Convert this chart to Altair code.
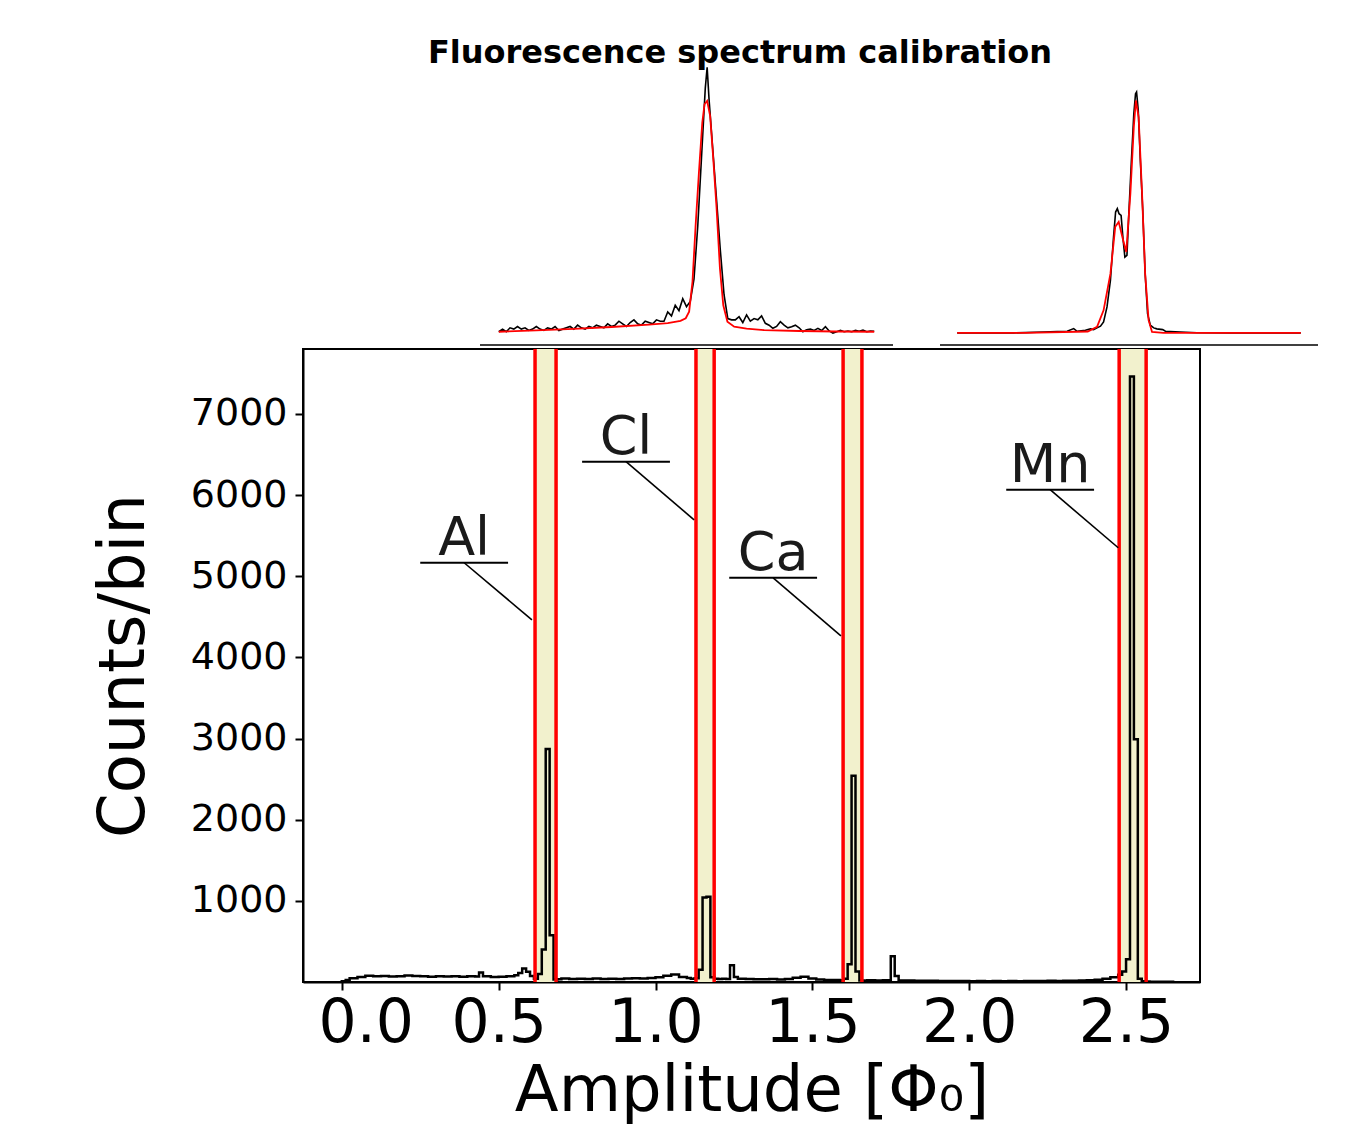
import altair as alt
import pandas as pd

# ---------------- data ----------------
TITLE = "Fluorescence spectrum calibration"
X_TITLE = "Amplitude [Φ₀]"
Y_TITLE = "Counts/bin"

# main histogram: left bin edges (Φ0) and counts per bin
hist_edges = [
    0.000, 0.0125, 0.025, 0.050, 0.075, 0.100, 0.125, 0.150, 0.175, 0.200,
    0.225, 0.250, 0.275, 0.300, 0.325, 0.350, 0.375, 0.400, 0.425, 0.4375,
    0.450, 0.475, 0.500, 0.525, 0.550, 0.5625, 0.575, 0.5875, 0.600, 0.6125,
    0.625, 0.6375, 0.650, 0.6625, 0.675, 0.6875,
    0.700, 0.725, 0.750, 0.775, 0.800, 0.825, 0.850, 0.875, 0.900, 0.925,
    0.950, 0.975, 1.000, 1.025, 1.050, 1.075, 1.100, 1.1125, 1.125,
    1.1375, 1.150, 1.1625, 1.175, 1.1875,
    1.200, 1.2125, 1.225, 1.2375, 1.250, 1.2625, 1.2875, 1.3125, 1.3375, 1.3625,
    1.3875, 1.4125, 1.4375, 1.4625, 1.4875, 1.5125, 1.5375, 1.5625, 1.5875,
    1.600, 1.6125, 1.625, 1.6375, 1.650, 1.6625,
    1.675, 1.700, 1.725, 1.750, 1.7625, 1.775, 1.800, 1.825, 1.850, 1.875,
    1.900, 1.925, 1.950, 1.975, 2.000, 2.025, 2.050, 2.075, 2.100, 2.125,
    2.150, 2.175, 2.200, 2.225, 2.250, 2.275, 2.300, 2.325, 2.350, 2.375,
    2.400, 2.425, 2.450,
    2.475, 2.4875, 2.500, 2.5125, 2.525, 2.5375, 2.550, 2.5625,
    2.575, 2.600, 2.625,
]
hist_counts = [
    8, 25, 45, 62, 78, 70, 74, 68, 72, 80,
    74, 70, 66, 72, 68, 70, 66, 72, 68, 118,
    70, 62, 66, 70, 82, 110, 165, 125, 75, 40,
    100, 400, 2870, 575, 30, 35,
    42, 36, 40, 38, 42, 36, 40, 38, 42, 45,
    44, 50, 58, 78, 92, 62, 48, 40, 45,
    150, 1040, 1050, 60, 40,
    38, 40, 36, 205, 62, 40, 38, 35, 33, 36,
    31, 36, 52, 66, 42, 30, 26, 25, 22,
    40, 220, 2540, 130, 18, 20,
    22, 20, 22, 318, 75, 20, 18, 16, 14, 15,
    12, 13, 12, 11, 10, 12, 10, 11, 10, 12,
    10, 11, 12, 12, 14, 13, 15, 16, 18, 22,
    28, 40, 60,
    90, 130, 280, 7460, 2990, 40, 10, 6,
    4, 3, 2,
]
hist_end = 2.650

# calibration lines (selection windows) and their labels
elements = ["Al", "Cl", "Ca", "Mn"]
band_lo = [0.616, 1.129, 1.598, 2.478]
band_hi = [0.683, 1.187, 1.658, 2.564]
label_x = [0.390, 0.906, 1.375, 2.258]      # underline centre (Φ0)
label_y = [5166, 6411, 4980, 6066]          # underline height (counts)
arrow_x = [0.606, 1.123, 1.591, 2.475]      # leader end (Φ0)
arrow_y = [4463, 5695, 4266, 5351]          # leader end (counts)
UNDERLINE_HALF = 0.14

# inset 1 (single line, relative units)
inl_black_x = list(range(0, 52)) + [52, 53, 54, 55, 55.5, 56, 57, 58, 59, 60, 61, 62] + list(range(63, 101))
inl_black_y = [
    0, 1, 0, 1.5, 1, 2, 1, 1.5, 0.5, 1, 2, 1, 0.5, 1.5, 1, 2, 0.5, 1, 1.5, 2,
    1, 2.5, 1.5, 1, 2, 1.5, 2.5, 2, 1.5, 3, 2, 2.5, 4, 3, 2, 3.5, 4.5, 3, 2.5, 4,
    3.5, 3, 4.5, 4, 4, 7.5, 6, 10, 8, 12.5, 9.5, 11.5,
    20, 40, 66, 92, 100, 88, 69, 50, 31, 14, 5, 4.5,
    4.5, 5.7, 3.5, 6.4, 4, 5, 4.5, 6, 3.2, 2.5, 1.3, 2, 3.8, 2.5, 1.5, 1.9, 2.5,
    1.5, 0, 0.8, 1, 0.5, 1.3, 0.5, 1.9, 0.3, -0.5, 0, 0.5, 0, 0.3, 0, 0.5, 0.2,
    0.6, 0, 0.3, 0.2,
]
inl_red_x = [0, 10, 20, 30, 40, 45, 48.4, 49.8, 50.7, 51.6, 52.4, 53.3, 54.2, 54.8,
             55.5, 56.3, 57.1, 58, 58.9, 59.8, 60.9, 62.7, 66, 70.7, 80, 90, 100]
inl_red_y = [0, 0.5, 1.1, 1.8, 2.7, 3.3, 4.1, 5.1, 7.6, 19, 39.5, 60, 79, 86,
             87.3, 81.5, 66, 47, 24, 10, 3.8, 1.9, 1.2, 0.6, 0.3, 0.1, 0]

# inset 2 (double line, relative units)
inr_black_x = [0, 6.8, 16.5, 25.2, 29.1, 32.0, 33.9, 34.9, 37.3, 38.8, 39.7, 40.7,
               41.7, 42.6, 43.6, 44.6, 45.5, 46.1, 46.6, 47.1, 47.7, 48.3, 48.8,
               49.4, 50.0, 50.7, 51.4, 51.9, 52.2, 52.7, 53.3, 54.0, 54.7, 55.4,
               56.2, 57.2, 58.1, 59.8, 60.6, 64.9, 69.8, 79.5, 89.1, 100]
inr_black_y = [0, 0, 0, 0.4, 0.6, 0.7, 1.8, 0.7, 1.1, 1.7, 1.4, 2.1,
               2.8, 4.6, 10.8, 21.9, 39.8, 50.2, 51.6, 49.5, 48.8, 38.5, 31.5,
               32.2, 51.0, 71.6, 91.0, 99.3, 100, 92.3, 71.6, 51.0, 24.6, 8.0,
               3.2, 2.1, 1.7, 1.4, 0.7, 0.4, 0.1, 0, 0, 0]
inr_red_x = [0, 20, 38, 40.7, 42.6, 44.6, 46.0, 47.0, 48.3, 49.2, 50.4, 51.4,
             52.0, 52.8, 53.8, 54.7, 55.7, 56.7, 60, 80, 100]
inr_red_y = [0, 0, 0.6, 2.5, 9.4, 24.6, 44.1, 46.1, 38.5, 33.6, 57.8, 85.5,
             96.5, 89.6, 57.8, 24.6, 5.3, 0.4, 0, 0, 0]

# ---------------- tables ----------------
hx = [hist_edges[0]] + hist_edges + [hist_end, hist_end]
hy = [0] + hist_counts + [hist_counts[-1], 0]
hist_df = pd.DataFrame({"x": hx, "y": hy, "i": list(range(len(hx)))})

band_df = pd.DataFrame({"el": elements, "lo": band_lo, "hi": band_hi})
edge_df = pd.DataFrame({"edge": band_lo + band_hi})
lab_df = pd.DataFrame({
    "el": elements, "lx": label_x, "ly": label_y,
    "ax": arrow_x, "ay": arrow_y,
    "ul0": [v - UNDERLINE_HALF for v in label_x],
    "ul1": [v + UNDERLINE_HALF for v in label_x],
})
title_df = pd.DataFrame({"t": [TITLE]})

FONT = "DejaVu Sans"
W, H = 897, 633

xs = alt.Scale(domain=[-0.1237, 2.7357], nice=False, zero=False)
ys = alt.Scale(domain=[0, 7800], nice=False, zero=False)

x_axis = alt.Axis(values=[0, 0.5, 1.0, 1.5, 2.0, 2.5], format=".1f", grid=False,
                  labelFontSize=60, tickSize=8, tickWidth=2, labelPadding=4,
                  labelOffset={"condition": {"test": "datum.value === 0", "value": 24},
                               "value": 0},
                  titleFontSize=64, titlePadding=6, domainWidth=2)
y_axis = alt.Axis(values=[1000, 2000, 3000, 4000, 5000, 6000, 7000], format="d",
                  grid=False, labelFontSize=38, tickSize=8, tickWidth=2,
                  labelPadding=8, titleFontSize=64, titlePadding=34, domainWidth=2)

bands = alt.Chart(band_df).mark_rect(color="#f2f1cd").encode(
    x=alt.X("lo:Q", scale=xs, title=X_TITLE), x2="hi:Q")

hist = alt.Chart(hist_df).mark_line(
    color="black", strokeWidth=2.5, interpolate="step-after").encode(
    x=alt.X("x:Q", scale=xs, axis=x_axis, title=X_TITLE),
    y=alt.Y("y:Q", scale=ys, axis=y_axis, title=Y_TITLE),
    order="i:Q")

rules = alt.Chart(edge_df).mark_rule(color="#ff0000", strokeWidth=3.5).encode(
    x=alt.X("edge:Q", scale=xs, title=X_TITLE))

underline = alt.Chart(lab_df).mark_rule(color="black", strokeWidth=2).encode(
    x=alt.X("ul0:Q", scale=xs, title=X_TITLE), x2="ul1:Q",
    y=alt.Y("ly:Q", scale=ys, title=Y_TITLE))

leaders = alt.Chart(lab_df).mark_rule(color="black", strokeWidth=1.6).encode(
    x=alt.X("lx:Q", scale=xs, title=X_TITLE), x2="ax:Q",
    y=alt.Y("ly:Q", scale=ys, title=Y_TITLE), y2="ay:Q")

labels = alt.Chart(lab_df).mark_text(
    fontSize=54, font=FONT, color="#1a1a1a", align="center",
    baseline="alphabetic", dy=-8).encode(
    x=alt.X("lx:Q", scale=xs, title=X_TITLE),
    y=alt.Y("ly:Q", scale=ys, title=Y_TITLE),
    text="el:N")

title_mark = alt.Chart(title_df).mark_text(
    fontSize=32, fontWeight="bold", font=FONT, color="black",
    align="center", baseline="alphabetic").encode(
    x=alt.value(437), y=alt.value(-286), text="t:N")

main = alt.layer(bands, hist, rules, underline, leaders, labels, title_mark)


def inset(bx, by, rx, ry, xrange, yrange):
    sx = alt.Scale(domain=[-5, 105], range=xrange, nice=False, zero=False)
    sy = alt.Scale(domain=[-5, 105], range=yrange, nice=False, zero=False)
    bdf = pd.DataFrame({"x": bx, "y": by})
    rdf = pd.DataFrame({"x": rx, "y": ry})
    black = alt.Chart(bdf).mark_line(color="black", strokeWidth=1.6).encode(
        x=alt.X("x:Q", scale=sx, axis=None),
        y=alt.Y("y:Q", scale=sy, axis=None))
    red = alt.Chart(rdf).mark_line(color="#ff0000", strokeWidth=1.8).encode(
        x=alt.X("x:Q", scale=sx, axis=None),
        y=alt.Y("y:Q", scale=sy, axis=None))
    spine = alt.Chart(pd.DataFrame({"a": [-5], "b": [105], "c": [-5]})).mark_rule(
        color="black", strokeWidth=1.5).encode(
        x=alt.X("a:Q", scale=sx, axis=None), x2="b:Q",
        y=alt.Y("c:Q", scale=sy, axis=None))
    return alt.layer(spine, black, red)


inset_left = inset(inl_black_x, inl_black_y, inl_red_x, inl_red_y, [177, 590], [-4, -295])
inset_right = inset(inr_black_x, inr_black_y, inr_red_x, inr_red_y, [637, 1015], [-4, -269])

chart = alt.layer(main, inset_left, inset_right).resolve_scale(
    x="independent", y="independent"
).properties(
    width=W, height=H,
    autosize=alt.AutoSizeParams(type="none"),
    padding={"left": 303, "top": 349, "right": 148, "bottom": 163},
    background="white",
).configure(font=FONT).configure_view(
    stroke="black", strokeWidth=2
).configure_axis(
    labelFont=FONT, titleFont=FONT, labelColor="black", titleColor="black",
    domainColor="black", tickColor="black", titleFontWeight="normal"
)

chart.save("out.html", embed_options={"renderer": "svg", "actions": False})
